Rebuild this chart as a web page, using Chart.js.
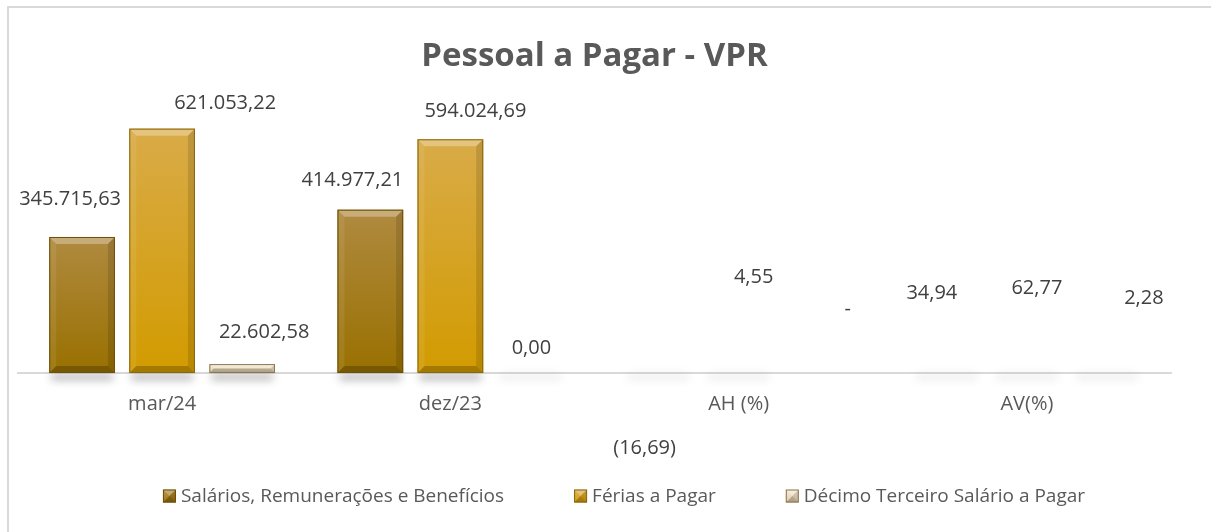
<!DOCTYPE html>
<html>
<head>
<meta charset="utf-8">
<script src="https://cdn.jsdelivr.net/npm/chart.js@4"></script>
<style>
  html, body { margin: 0; padding: 0; background: #fff; overflow: hidden; }
  #frame {
    position: absolute; left: 7px; top: 6px; width: 1300px; height: 600px;
    border: 2px solid #d9d9d9; box-sizing: border-box;
  }
  #wrap { position: absolute; left: 0; top: 0; width: 1211px; height: 532px; }
</style>
</head>
<body>
<div id="frame"></div>
<div id="wrap"><canvas id="chart" width="1211" height="532"></canvas></div>
<script>
const categories = ["mar/24", "dez/23", "AH (%)", "AV(%)"];
const seriesNames = ["Salários, Remunerações e Benefícios", "Férias a Pagar", "Décimo Terceiro Salário a Pagar"];
const salarios = [345715.63, 414977.21, -16.69, 34.94];
const ferias = [621053.22, 594024.69, 4.55, 62.77];
const decimo = [22602.58, 0.0, null, 2.28];

// bar look: gradient top -> bottom, bevel edge colour
const palettes = [
  { flat: "#a07810", top: "#b08a40", bottom: "#997000", edge: "#6a500c" },
  { flat: "#d5a220", top: "#d9ab48", bottom: "#d29b00", edge: "#876710" },
  { flat: "#e6d8b8", top: "#f3ead6", bottom: "#ddcca6", edge: "#8c7550" },
];

// where Excel put each data label, relative to the bar top [dx, dy]
const labelNudge = [
  [[-12, -38], [-18, -29], [-14, 75], [-15, -80]],
  [[63, -25], [25, -28], [15, -96], [10, -85]],
  [[22, -32], [1, -25], [29, -64], [37, -75]],
];

const fmt = new Intl.NumberFormat("pt-BR", { minimumFractionDigits: 2, maximumFractionDigits: 2 });
function labelText(v) {
  if (v === null || v === undefined) return "-";
  if (v < 0) return "(" + fmt.format(-v) + ")";
  return fmt.format(v);
}

function paintBar(ctx, x0, y0, x1, y1, pal) {
  const w = x1 - x0, h = y1 - y0;
  if (h < 0.5) return;
  const g = ctx.createLinearGradient(0, y0, 0, y1);
  g.addColorStop(0, pal.top);
  g.addColorStop(1, pal.bottom);
  ctx.fillStyle = g;
  ctx.fillRect(x0, y0, w, h);
  const b = Math.min(7, h / 2, w / 2);
  const poly = (pts, color) => {
    ctx.beginPath();
    ctx.moveTo(pts[0][0], pts[0][1]);
    for (let i = 1; i < pts.length; i++) ctx.lineTo(pts[i][0], pts[i][1]);
    ctx.closePath();
    ctx.fillStyle = color;
    ctx.fill();
  };
  poly([[x0, y0], [x1, y0], [x1 - b, y0 + b], [x0 + b, y0 + b]], "rgba(255,255,255,0.30)");
  poly([[x0, y0], [x0 + b, y0 + b], [x0 + b, y1 - b], [x0, y1]], "rgba(255,255,255,0.08)");
  poly([[x1, y0], [x1 - b, y0 + b], [x1 - b, y1 - b], [x1, y1]], "rgba(0,0,0,0.12)");
  poly([[x0, y1], [x0 + b, y1 - b], [x1 - b, y1 - b], [x1, y1]], "rgba(0,0,0,0.22)");
  ctx.strokeStyle = pal.edge;
  ctx.lineWidth = 1;
  ctx.strokeRect(x0 + 0.5, y0 + 0.5, w - 1, h - 1);
}

const bevelBars = {
  id: "bevelBars",
  beforeDatasetsDraw(chart) {
    const ctx = chart.ctx;
    const zero = chart.scales.y.getPixelForValue(0);
    ctx.save();
    ctx.filter = "blur(4px)";
    chart.data.datasets.forEach((ds, di) => {
      chart.getDatasetMeta(di).data.forEach((bar, i) => {
        const v = ds.data[i];
        if (v === null) return;
        const p = bar.getProps(["x", "width"], true);
        ctx.fillStyle = Math.abs(zero - bar.y) > 2 ? "rgba(0,0,0,0.30)" : "rgba(0,0,0,0.07)";
        ctx.fillRect(p.x - p.width / 2 + 2, zero + 1, p.width - 4, 6);
      });
    });
    ctx.restore();
  },
  afterDatasetsDraw(chart) {
    const ctx = chart.ctx;
    ctx.save();
    chart.data.datasets.forEach((ds, di) => {
      chart.getDatasetMeta(di).data.forEach((bar, i) => {
        if (ds.data[i] === null) return;
        const p = bar.getProps(["x", "y", "base", "width"], true);
        const top = Math.min(p.y, p.base), bottom = Math.max(p.y, p.base);
        paintBar(ctx, p.x - p.width / 2, top, p.x + p.width / 2, bottom, palettes[di]);
      });
    });
    ctx.restore();
  },
  afterDraw(chart) {
    const ctx = chart.ctx;
    const zero = chart.scales.y.getPixelForValue(0);
    ctx.save();
    // data labels
    ctx.font = "20px 'Open Sans'";
    ctx.fillStyle = "#404040";
    ctx.textAlign = "center";
    ctx.textBaseline = "middle";
    chart.data.datasets.forEach((ds, di) => {
      chart.getDatasetMeta(di).data.forEach((bar, i) => {
        const v = ds.data[i];
        const anchor = v === null ? zero : bar.y;
        const [dx, dy] = labelNudge[di][i];
        ctx.fillText(labelText(v), bar.x + dx, anchor + dy);
      });
    });
    // legend
    ctx.font = "19px 'Open Sans'";
    ctx.textAlign = "left";
    const box = 13, gap = 5, spacing = 70, ly = 496;
    const widths = seriesNames.map((n) => box + gap + ctx.measureText(n).width);
    const total = widths.reduce((a, b) => a + b, 0) + spacing * (widths.length - 1);
    let x = 624 - total / 2;
    seriesNames.forEach((name, di) => {
      paintBar(ctx, x, ly - box / 2, x + box, ly + box / 2, palettes[di]);
      ctx.fillStyle = "#595959";
      ctx.fillText(name, x + box + gap, ly + 1);
      x += widths[di] + spacing;
    });
    ctx.restore();
  },
};

new Chart(document.getElementById("chart"), {
  type: "bar",
  data: {
    labels: categories,
    datasets: [
      { label: seriesNames[0], data: salarios, backgroundColor: palettes[0].flat },
      { label: seriesNames[1], data: ferias, backgroundColor: palettes[1].flat },
      { label: seriesNames[2], data: decimo, backgroundColor: palettes[2].flat },
    ],
  },
  options: {
    responsive: false,
    animation: false,
    layout: { padding: { left: 18, right: 40, top: 0, bottom: 105 } },
    datasets: { bar: { categoryPercentage: 0.833, barPercentage: 0.82 } },
    plugins: {
      legend: { display: false },
      tooltip: { enabled: false },
      title: {
        display: true,
        text: "Pessoal a Pagar - VPR",
        color: "#595959",
        font: { family: "Open Sans", size: 33, weight: "bold", lineHeight: 1.2 },
        padding: { top: 37, bottom: 21 },
      },
    },
    scales: {
      x: {
        grid: { display: false },
        border: { display: true, color: "#d9d9d9", width: 2 },
        ticks: { color: "#595959", padding: 11, font: { family: "Open Sans", size: 20 } },
      },
      y: { display: false, min: 0, max: 700000 },
    },
  },
  plugins: [bevelBars],
});
</script>
</body>
</html>
